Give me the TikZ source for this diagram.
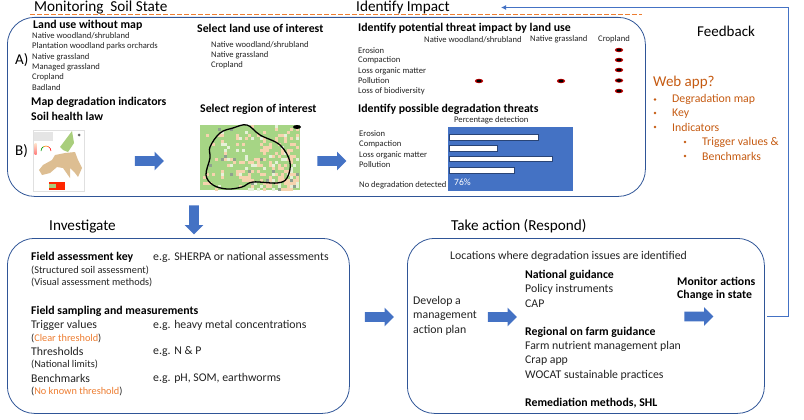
\documentclass[tikz,border=0pt]{standalone}
\usepackage{fontspec}
\setmainfont{Carlito}
\usetikzlibrary{shapes.arrows,arrows.meta}
\definecolor{bl}{HTML}{4472C4}
\definecolor{boxb}{HTML}{2F5597}
\definecolor{org}{HTML}{C55A11}
\definecolor{org2}{HTML}{ED7D31}
\definecolor{txtc}{HTML}{222222}
\definecolor{mapg}{HTML}{A6D585}
\definecolor{mapo}{HTML}{F6D3AE}
\definecolor{mapw}{HTML}{E6F1D8}
\definecolor{mapk}{HTML}{8FA08F}
\definecolor{eut}{HTML}{DDBE92}
\definecolor{eug}{HTML}{A9CE7C}
\tikzset{
 base/.style={anchor=west,inner sep=0pt,text=txtc},
 small/.style={base,font=\fontsize{8.6}{10}\selectfont},
 smallb/.style={base,font=\fontsize{10.3}{12}\selectfont},
 mid/.style={base,font=\fontsize{11.8}{13}\selectfont},
 head/.style={base,font=\fontsize{11.8}{13}\selectfont\bfseries,text=black},
 title/.style={base,font=\fontsize{15.2}{17}\selectfont,text=black},
 lab/.style={base,font=\fontsize{15}{17}\selectfont,text=black},
 web/.style={base,text=org,font=\fontsize{11.8}{13}\selectfont},
 panel/.style={draw=boxb,line width=0.8pt,rounded corners=27pt},
 barrow/.style={single arrow,fill=bl,draw=none,minimum height=29pt,minimum width=18.5pt,single arrow head extend=4.5pt,inner sep=4.7pt},
 wbar/.style={draw=bl!60!black,fill=white,line width=0.3pt},
 bul/.style={circle,fill=org,inner sep=0pt,minimum size=2.8pt}
}
\begin{document}
\begin{tikzpicture}[x=1pt,y=-1pt]
\useasboundingbox (0,0) rectangle (804,420);
% panels
\node[panel,minimum width=638pt,minimum height=179pt,anchor=north west,inner sep=0pt] (p1) at (7,17) {};
\node[panel,minimum width=342pt,minimum height=175pt,anchor=north west,inner sep=0pt] (p2) at (7,238) {};
\node[panel,minimum width=357pt,minimum height=175pt,anchor=north west,inner sep=0pt] (p3) at (407,238) {};
% dashed
\coordinate (da) at (30,15); \coordinate (db) at (642,15);
\draw[org2,line width=1pt,dash pattern=on 4.5pt off 2.5pt] (da) -- (db);
% titles
\node[title] (t1) at (34,7.5) {Monitoring\ \ Soil State};
\node[title] (t2) at (356,7.5) {Identify Impact};
\node[title] (t3) at (49,226.5) {Investigate};
\node[title] (t4) at (451,226.5) {Take action (Respond)};
\node[lab] (fb) at (697,31) {Feedback};
% A section
\node[lab] (A) at (15,60) {A)};
\node[lab] (B) at (15,151) {B)};
\node[head] (a0) at (33,25.5) {Land use without map};
\node[small] (a1) at (32,36) {Native woodland/shrubland};
\node[small] (a2) at (32,46.5) {Plantation woodland parks orchards};
\node[small] (a3) at (32,57) {Native grassland};
\node[small] (a4) at (32,67) {Managed grassland};
\node[small] (a5) at (32,77) {Cropland};
\node[small] (a6) at (32,87.5) {Badland};
\node[head] (m1) at (31,102) {Map degradation indicators};
\node[head] (m2) at (31,116) {Soil health law};
\node[head] (s0) at (197,28) {Select land use of interest};
\node[small] (s1) at (211,45) {Native woodland/shrubland};
\node[small] (s2) at (211,55) {Native grassland};
\node[small] (s3) at (211,65.5) {Cropland};
\node[head] (r0) at (200,109.5) {Select region of interest};
% threat table
\node[head] (i0) at (358,28) {Identify potential threat impact by land use};
\node[small] (c1) at (424,39.5) {Native woodland/shrubland};
\node[small] (c2) at (530,39.5) {Native grassland};
\node[small] (c3) at (598,39.5) {Cropland};
\node[small] (e1) at (358,50.5) {Erosion};
\node[small] (e2) at (358,60.5) {Compaction};
\node[small] (e3) at (358,71) {Loss organic matter};
\node[small] (e4) at (358,81) {Pollution};
\node[small] (e5) at (358,91.5) {Loss of biodiversity};
\foreach \n/\x/\y in {d1/619/50,d2/619/60,d3/619/70,d4/619/80.5,d5/619/91,d6/479/81,d7/561/81}{
  \fill[red!75!black] (\x,\y) ellipse (4.2pt and 2.2pt);
  \fill[black] (\x,\y) ellipse (2.6pt and 1.4pt);
}
\node[head] (g0) at (358,109.5) {Identify possible degradation threats};
\node[small] (g1) at (454,120.5) {Percentage detection};
\node[small] (h1) at (359,134) {Erosion};
\node[small] (h2) at (359,144) {Compaction};
\node[small] (h3) at (359,155) {Loss organic matter};
\node[small] (h4) at (359,165) {Pollution};
\node[small] (h5) at (359,185) {No degradation detected};
\fill[bl] (448,127) rectangle (573,190.5);
\draw[wbar] (449,134) rectangle (538,140);
\draw[wbar] (449,145) rectangle (497,151);
\draw[wbar] (449,156) rectangle (552,161.5);
\draw[wbar] (449,167) rectangle (514,173);
\node[small,text=white,font=\fontsize{9.6}{11}\selectfont] (pc) at (454,182) {76\%};
% EU map
\draw[black!12,line width=0.4pt] (33,130.5) rectangle (84,191.5);
\fill[eug] (60,147) -- (72,131) -- (74,143) -- (68,152) -- (63,150) -- cycle;
\fill[eut] (43,165) -- (52,160) -- (55,155) -- (65,153) -- (75,152) -- (78,160) -- (82,168) -- (78,177) -- (75,173) -- (70,168) -- (70,178) -- (63,168) -- (57,167) -- (50,173) -- (42,175) -- (39,170) -- cycle;
\fill[black!10] (34,132) rectangle (53,141);
\shade[top color=orange!20,bottom color=red!50] (34.5,143) rectangle (36.5,154);
\draw[green!60!black,line width=0.6pt] (41,151) arc (180:120:5pt);
\draw[orange,line width=0.6pt] (43.5,146.7) arc (120:60:5pt);
\draw[red,line width=0.6pt] (48.5,146.7) arc (60:0:5pt);
\fill[red!70!orange] (49,182) rectangle (65,189.5);
\fill[eug] (49,184) rectangle (56,188);
\fill[black!60] (79,135) circle (1.5pt);
% region map
\fill[mapg] (200,125) rectangle (300,190);
\pgfmathsetseed{11}
\foreach \i in {0,...,32}{
 \foreach \j in {0,...,21}{
  \pgfmathsetmacro{\rr}{rnd}
  \pgfmathsetmacro{\pp}{0.04+0.62*(\i/32)*(0.3+\j/21)}
  \pgfmathsetmacro{\kk}{rnd}
  \ifdim \rr pt<\pp pt
    \ifdim \kk pt<0.06pt
      \fill[mapk] (200+3*\i,125+3*\j) rectangle +(3,3);
    \else\ifdim \kk pt<0.3pt
      \fill[mapw] (200+3*\i,125+3*\j) rectangle +(3,3);
    \else
      \fill[mapo] (200+3*\i,125+3*\j) rectangle +(3,3);
    \fi\fi
  \fi
 }
}
\fill[black] (297,127) ellipse (4pt and 2pt);
\draw[black,line width=1.3pt] plot[smooth cycle,tension=0.6] coordinates {(210,147) (220,133) (233,128) (247,125) (260,135) (280,145) (290,162) (287,178) (277,183) (253,182) (242,187) (227,189) (213,185) (206,175) (210,158)};
% investigate
\node[head] (v0) at (31,257) {Field assessment key};
\node[mid] (v0b) at (153,257) {e.g. SHERPA or national assessments};
\node[smallb] (v1) at (31,270) {(Structured soil assessment)};
\node[smallb] (v2) at (31,282) {(Visual assessment methods)};
\node[head] (f0) at (31,311) {Field sampling and measurements};
\node[mid] (f1) at (31,325) {Trigger values};
\node[mid] (f1b) at (153,325) {e.g. heavy metal concentrations};
\node[smallb] (f2) at (31,338) {(\textcolor{org2}{Clear threshold})};
\node[mid] (f3) at (31,351.5) {Thresholds};
\node[mid] (f3b) at (153,351.5) {e.g. N \& P};
\node[smallb] (f4) at (31,364.5) {(National limits)};
\node[mid] (f5) at (31,378) {Benchmarks};
\node[mid] (f5b) at (153,378) {e.g. pH, SOM, earthworms};
\node[smallb] (f6) at (31,391) {(\textcolor{org2}{No known threshold})};
% respond
\node[mid] (l0) at (450,256) {Locations where degradation issues are identified};
\node[mid] (d1t) at (413,301) {Develop a};
\node[mid] (d2t) at (413,316) {management};
\node[mid] (d3t) at (413,330) {action plan};
\node[head] (n0) at (525,275.5) {National guidance};
\node[mid] (n1) at (525,289.5) {Policy instruments};
\node[mid] (n2) at (525,304) {CAP};
\node[head] (n3) at (525,332.5) {Regional on farm guidance};
\node[mid] (n4) at (525,346.5) {Farm nutrient management plan};
\node[mid] (n5) at (525,361) {Crap app};
\node[mid] (n6) at (525,375) {WOCAT sustainable practices};
\node[head] (n7) at (525,403.5) {Remediation methods, SHL};
\node[head] (z1) at (677,281) {Monitor actions};
\node[head] (z2) at (677,295) {Change in state};
% web app
\node[base,text=org,font=\fontsize{15}{17}\selectfont] (w0) at (653,83) {Web app?};
\node[web] (w1) at (672,99.5) {Degradation map};
\node[web] (w2) at (672,113.5) {Key};
\node[web] (w3) at (672,127) {Indicators};
\node[web] (w4) at (702,142) {Trigger values \&};
\node[web] (w5) at (702,156) {Benchmarks};
\foreach \n/\x/\y in {b1/655/99.5,b2/655/113,b3/655/127,b4/685/142,b5/685/156}{\node[bul] (\n) at (\x,\y) {};}
% block arrows
\node[barrow] (ar1) at (147,161) {};
\node[barrow] (ar2) at (329.5,161) {};
\node[barrow,rotate=-90] (ar3) at (194,217.5) {};
\node[barrow] (ar4) at (377,317) {};
\node[barrow] (ar5) at (500,317) {};
\node[barrow] (ar6) at (696.5,316.5) {};
% feedback connector
\coordinate (fa) at (767,316.5); \coordinate (fc) at (788,316.5); \coordinate (fd) at (788,7.5); \coordinate (fe) at (501,7.5);
\draw[bl,line width=1pt,-{Latex[length=5pt,width=5pt]}] (fa) -- (fc) -- (fd) -- (fe);
\end{tikzpicture}
\end{document}
